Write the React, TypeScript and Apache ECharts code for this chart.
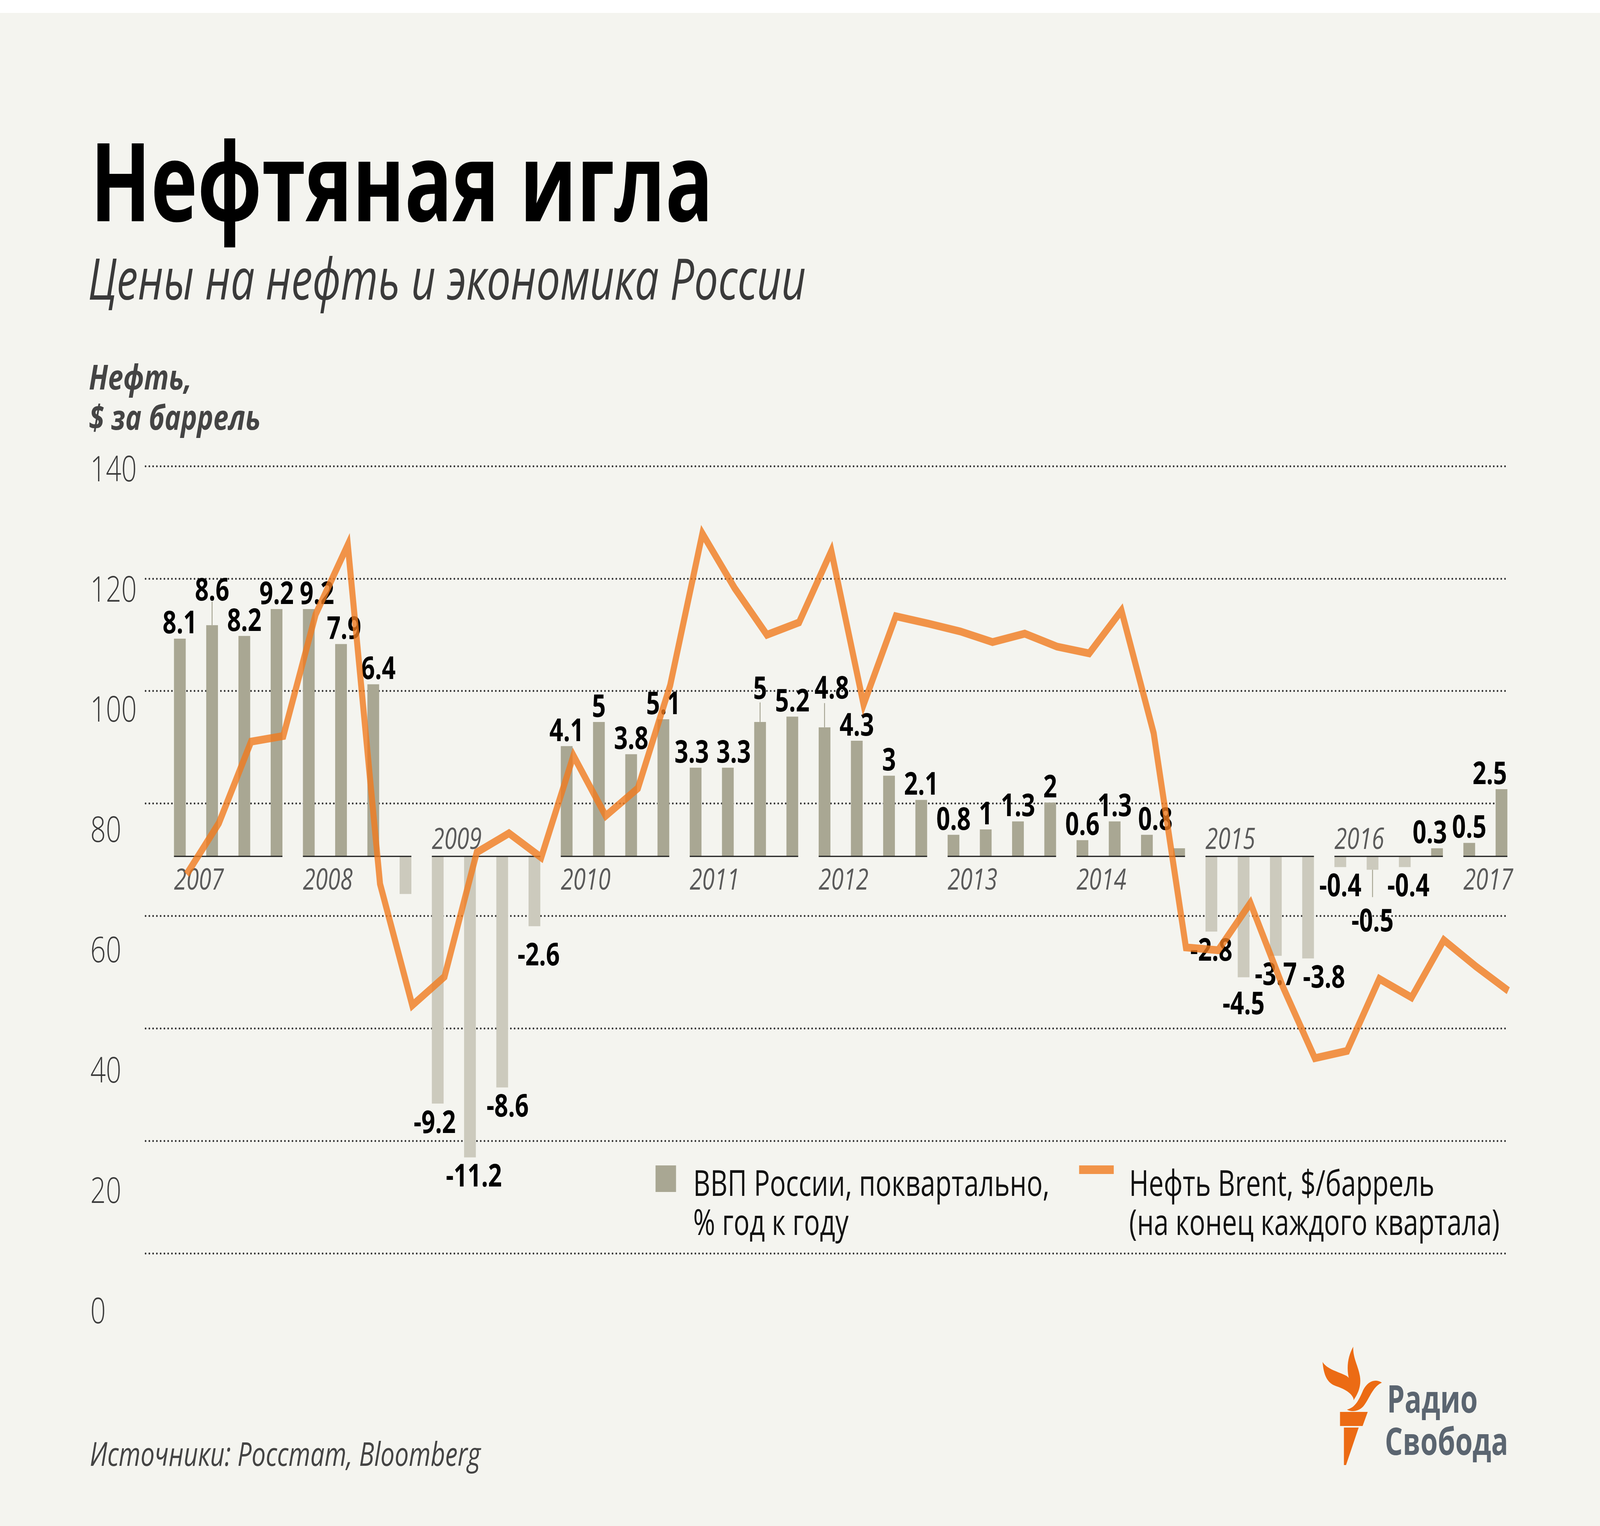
import React, { useEffect, useRef } from "react";
import * as echarts from "echarts";

// ---------- data ----------
const years = ["2007", "2008", "2009", "2010", "2011", "2012", "2013", "2014", "2015", "2016", "2017"];
const quartersPerYear = [4, 4, 4, 4, 4, 4, 4, 4, 4, 4, 2];
const yearLabelAbove = [false, false, true, false, false, false, false, false, true, true, false];

// Russia GDP, quarterly, % year on year
const gdpGrowth = [
  8.1, 8.6, 8.2, 9.2,
  9.2, 7.9, 6.4, -1.4,
  -9.2, -11.2, -8.6, -2.6,
  4.1, 5, 3.8, 5.1,
  3.3, 3.3, 5, 5.2,
  4.8, 4.3, 3, 2.1,
  0.8, 1, 1.3, 2,
  0.6, 1.3, 0.8, 0.3,
  -2.8, -4.5, -3.7, -3.8,
  -0.4, -0.5, -0.4, 0.3,
  0.5, 2.5,
];

// Brent, $/barrel, end of each quarter
const brentPrice = [
  67.4, 76.5, 91.0, 92.0,
  113.6, 126.0, 65.7, 44.1,
  49.2, 71.3, 74.7, 70.4,
  88.5, 77.8, 82.7, 101.0,
  128.0, 118.3, 110.0, 112.2,
  124.9, 97.6, 113.3, 112.0,
  110.6, 108.7, 110.2, 107.9,
  106.7, 114.3, 92.5, 54.4,
  53.9, 62.3, 47.5, 34.7,
  36.0, 48.8, 45.5, 55.7,
  51.0, 46.7,
];

const oilTickMin = 0;
const oilTickMax = 140;
const oilTickInterval = 20;

const quarters: string[] = [];
const yearRanges: number[][] = [];
{
  let k = 0;
  years.forEach((y, i) => {
    const start = k;
    for (let q = 1; q <= quartersPerYear[i]; q++) {
      quarters.push(`${y} Q${q}`);
      k++;
    }
    yearRanges.push([start, k - 1, yearLabelAbove[i] ? 1 : 0]);
  });
}

// ---------- styling config ----------
const hiddenLabels = [7, 31];
const labelNudges: Record<number, { dx?: number; dy?: number; leader?: number }> = {
  1: { dy: -50, leader: 60 },
  4: { dx: 27 },
  5: { dx: 10 },
  6: { dx: 17 },
  8: { dx: -10 },
  9: { dx: 13 },
  10: { dx: 18 },
  11: { dx: 14, dy: 25 },
  16: { dx: -13 },
  17: { dx: 19 },
  18: { dy: -46, leader: 50 },
  20: { dx: 24, dy: -60, leader: 62 },
  30: { dx: 28 },
  33: { dy: 20 },
  35: { dx: 53 },
  37: { dy: 83, leader: 70 },
  38: { dx: 12 },
  39: { dx: -24 },
  41: { dx: -39 },
};

const W = 5311;
const H = 3906;
const BG = "#f4f4ef";
const POS = "#a9a793";
const NEG = "#cccabd";
const ORANGE = "#f07a1e";
const BAR_W = 39;
const FONT = "Open Sans";

const PLOT_TOP = 1193;
const PLOT_H = 2015;
const BAR_LEFT = 543.5;
const BAR_WIDTH_TOTAL = 4494;
const LINE_SHIFT = 22.5;

// logo shapes (local coordinates)
const flame1 = "M10,46 C14,80 25,100 55,108 C85,116 105,125 113,140 C112,110 106,90 90,82 C60,70 25,65 10,46 Z";
const flame2 = "M112,7 C95,30 88,60 98,90 C106,115 113,130 113,144 C125,130 140,110 134,82 C128,55 110,35 112,7 Z";
const flame3 = "M207,99 C185,88 160,95 145,118 C130,145 118,163 91,168 C105,175 130,173 145,160 C165,142 175,110 207,99 Z";
echarts.graphic.registerShape("rsFlame1", echarts.graphic.extendPath(flame1, {}));
echarts.graphic.registerShape("rsFlame2", echarts.graphic.extendPath(flame2, {}));
echarts.graphic.registerShape("rsFlame3", echarts.graphic.extendPath(flame3, {}));

function buildOption(): any {
  const barData = gdpGrowth.map((v, i) => {
    const n = labelNudges[i] || {};
    const pos = v >= 0;
    return {
      value: v,
      itemStyle: { color: pos ? POS : NEG },
      label: {
        show: hiddenLabels.indexOf(i) < 0,
        position: pos ? "top" : "bottom",
        distance: 4,
        offset: [n.dx || 0, n.dy || 0],
      },
    };
  });

  const leaderData = Object.keys(labelNudges)
    .map((k) => Number(k))
    .filter((i) => labelNudges[i].leader)
    .map((i) => [i, gdpGrowth[i], labelNudges[i].leader as number]);

  const text = (t: string, x: number, y: number, o: any = {}) => ({
    type: "text",
    x,
    y,
    silent: true,
    scaleX: o.scaleX || 1,
    style: {
      text: t,
      fontFamily: o.fontFamily || FONT,
      fontSize: o.fontSize || 80,
      fontWeight: o.fontWeight || "normal",
      fontStyle: o.fontStyle || "normal",
      fill: o.fill || "#000",
      textAlign: "left",
      textVerticalAlign: "middle",
    },
  });

  const LOGO_X = 4380;
  const LOGO_Y = 3440;
  const LOGO_ORANGE = "#ec6b14";

  return {
    animation: false,
    backgroundColor: BG,
    grid: [
      { left: BAR_LEFT, top: PLOT_TOP, width: BAR_WIDTH_TOTAL, height: PLOT_H },
      { left: BAR_LEFT + LINE_SHIFT, top: PLOT_TOP, width: BAR_WIDTH_TOTAL, height: PLOT_H },
      { left: 483, top: PLOT_TOP, width: 4523, height: PLOT_H },
      { left: 400, top: 1197, width: 50, height: 2155 },
    ],
    xAxis: [
      { type: "category", data: quarters, gridIndex: 0, show: false, boundaryGap: true },
      { type: "category", data: quarters, gridIndex: 1, show: false, boundaryGap: true },
      { type: "value", gridIndex: 2, show: false, min: 0, max: 1 },
      { type: "value", gridIndex: 3, show: false, min: 0, max: 1 },
    ],
    yAxis: [
      { type: "value", gridIndex: 0, show: false, min: -14.77, max: 14.52 },
      { type: "value", gridIndex: 1, show: false, min: oilTickMin, max: oilTickMax },
      {
        type: "value",
        gridIndex: 2,
        min: oilTickMin,
        max: oilTickMax,
        interval: oilTickInterval,
        axisLine: { show: false },
        axisTick: { show: false },
        axisLabel: { show: false },
        splitLine: {
          show: true,
          lineStyle: { color: "#2e2e2e", width: 5, type: [0.5, 12], cap: "round" },
        },
      },
      {
        type: "value",
        gridIndex: 3,
        min: oilTickMin,
        max: oilTickMax,
        interval: oilTickInterval,
        axisLine: { show: false },
        axisTick: { show: false },
        splitLine: { show: false },
        axisLabel: {
          show: true,
          align: "left",
          margin: 100,
          fontFamily: FONT,
          fontWeight: 300,
          fontSize: 90,
          color: "#3c3c3c",
        },
      },
    ],
    series: [
      {
        type: "bar",
        name: "ВВП России",
        xAxisIndex: 0,
        yAxisIndex: 0,
        barWidth: BAR_W,
        data: barData,
        z: 2,
        label: {
          fontFamily: FONT,
          fontWeight: "bold",
          fontSize: 80,
          color: "#000",
          formatter: (p: any) => String(p.value),
        },
      },
      {
        type: "custom",
        name: "years",
        xAxisIndex: 0,
        yAxisIndex: 0,
        clip: false,
        z: 3,
        encode: { x: 0, y: 2 },
        data: yearRanges,
        renderItem: (params: any, api: any) => {
          const i = params.dataIndex;
          const s = api.value(0);
          const e = api.value(1);
          const above = api.value(2);
          const a = api.coord([s, 0]);
          const b = api.coord([e, 0]);
          const half = BAR_W / 2;
          return {
            type: "group",
            children: [
              {
                type: "line",
                shape: { x1: a[0] - half, y1: a[1], x2: b[0] + half, y2: b[1] },
                style: { stroke: "#1a1a1a", lineWidth: 3 },
              },
              {
                type: "text",
                x: a[0] - half,
                y: a[1] + (above ? -48 : 56),
                style: {
                  text: years[i],
                  fontFamily: FONT,
                  fontStyle: "italic",
                  fontSize: 75,
                  fill: "#5a5a5a",
                  textAlign: "left",
                  textVerticalAlign: "middle",
                },
              },
            ],
          };
        },
      },
      {
        type: "custom",
        name: "leaders",
        xAxisIndex: 0,
        yAxisIndex: 0,
        clip: false,
        z: 3,
        encode: { x: 0, y: 1 },
        data: leaderData,
        renderItem: (params: any, api: any) => {
          const v = api.value(1);
          const len = api.value(2);
          const p = api.coord([api.value(0), v]);
          const dir = v >= 0 ? -1 : 1;
          return {
            type: "line",
            shape: { x1: p[0], y1: p[1], x2: p[0], y2: p[1] + dir * len },
            style: { stroke: "#a5a391", lineWidth: 3 },
          };
        },
      },
      {
        type: "line",
        name: "Нефть Brent",
        xAxisIndex: 1,
        yAxisIndex: 1,
        data: brentPrice,
        showSymbol: false,
        symbol: "none",
        z: 5,
        lineStyle: { color: ORANGE, width: 20, opacity: 0.8, join: "miter", miterLimit: 8 },
      },
    ],
    graphic: [
      { type: "rect", shape: { x: 0, y: 0, width: W, height: 33 }, style: { fill: "#ffffff" }, silent: true },
      text("Нефтяная игла", 300, 458, { fontSize: 279, fontWeight: "bold", fill: "#000", scaleX: 0.94 }),
      text("Цены на нефть и экономика России", 292, 710, {
        fontSize: 146,
        fontStyle: "italic",
        fontWeight: "normal",
        fill: "#3a3a3a",
        scaleX: 0.97,
      }),
      text("Нефть,", 295, 963, { fontSize: 88, fontStyle: "italic", fontWeight: "bold", fill: "#444", scaleX: 1.03 }),
      text("$ за баррель", 295, 1066, { fontSize: 88, fontStyle: "italic", fontWeight: "bold", fill: "#444", scaleX: 1.03 }),
      // legend
      { type: "rect", shape: { x: 2176, y: 2983, width: 68, height: 68 }, style: { fill: POS }, silent: true },
      text("ВВП России, поквартально,", 2301, 3025, { fontSize: 92, fill: "#111", scaleX: 0.96 }),
      text("% год к году", 2301, 3125, { fontSize: 92, fill: "#111", scaleX: 0.96 }),
      {
        type: "rect",
        shape: { x: 3582, y: 2983, width: 115, height: 22 },
        style: { fill: ORANGE, opacity: 0.8 },
        silent: true,
      },
      text("Нефть Brent, $/баррель", 3748, 3025, { fontSize: 92, fill: "#111", scaleX: 0.96 }),
      text("(на конец каждого квартала)", 3748, 3125, { fontSize: 92, fill: "#111", scaleX: 0.96 }),
      // source
      text("Источники: Росстат, Bloomberg", 298, 3719, { fontSize: 85, fontStyle: "italic", fill: "#444", scaleX: 0.98 }),
      // logo
      { type: "rsFlame1", x: LOGO_X, y: LOGO_Y, style: { fill: LOGO_ORANGE }, silent: true },
      { type: "rsFlame2", x: LOGO_X, y: LOGO_Y, style: { fill: LOGO_ORANGE }, silent: true },
      { type: "rsFlame3", x: LOGO_X, y: LOGO_Y, style: { fill: LOGO_ORANGE }, silent: true },
      {
        type: "polygon",
        x: LOGO_X,
        y: LOGO_Y,
        shape: { points: [[68, 174], [160, 174], [143, 210], [68, 210]] },
        style: { fill: LOGO_ORANGE },
        silent: true,
      },
      {
        type: "polygon",
        x: LOGO_X,
        y: LOGO_Y,
        shape: { points: [[81, 214], [130, 214], [88, 310], [81, 310]] },
        style: { fill: LOGO_ORANGE },
        silent: true,
      },
      text("Радио", 4604, 3579, { fontSize: 96, fontWeight: "bold", fill: "#5b6570", scaleX: 0.97 }),
      text("Свобода", 4597, 3687, { fontSize: 96, fontWeight: "bold", fill: "#5b6570", scaleX: 0.97 }),
    ],
  };
}

function viewScale(): [number, number] {
  if (typeof window === "undefined") return [1, 1];
  const w = window.innerWidth || W;
  const h = window.innerHeight || H;
  return [w / W, h / H];
}

export default function App() {
  const ref = useRef<HTMLDivElement>(null);
  if (typeof document !== "undefined") {
    document.body.style.margin = "0";
    document.body.style.overflow = "hidden";
  }
  const [sx, sy] = viewScale();
  useEffect(() => {
    if (!ref.current) return;
    const chart = echarts.init(ref.current, null, { renderer: "svg", width: W, height: H });
    chart.setOption(buildOption());
    return () => chart.dispose();
  }, []);
  return (
    <div style={{ width: W * sx, height: H * sy, overflow: "hidden", position: "relative" }}>
      <div
        ref={ref}
        style={{
          width: W,
          height: H,
          transform: `scale(${sx}, ${sy})`,
          transformOrigin: "0 0",
          position: "absolute",
          left: 0,
          top: 0,
        }}
      />
    </div>
  );
}
